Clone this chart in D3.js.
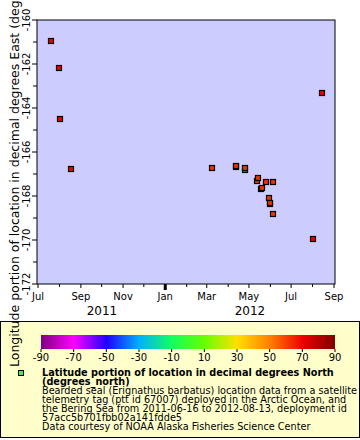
<!DOCTYPE html>
<html><head><meta charset="utf-8">
<script src="https://cdn.jsdelivr.net/npm/d3@7"></script>
<style>body{margin:0;background:#fff}svg{display:block;font-family:"DejaVu Sans",sans-serif}</style>
</head><body><svg id="c" width="360" height="440"></svg>
<script>
const dates = ["2011-07-20","2011-07-31","2011-08-02","2011-08-17","2012-03-08","2012-04-12","2012-04-13","2012-04-25","2012-04-25","2012-05-13","2012-05-14","2012-05-25","2012-06-05","2012-05-18","2012-05-20","2012-05-30","2012-05-31","2012-05-31","2012-06-05","2012-08-01","2012-08-14"];
const longitudes = [-160.94,-162.17,-164.49,-166.77,-166.71,-166.70,-166.64,-166.84,-166.71,-167.30,-167.18,-167.38,-167.35,-167.66,-167.64,-168.09,-168.36,-168.33,-168.82,-169.97,-163.32];
const latitudes = [71,71,71,70,63,63,63,63,63,63,63,63,63,63,63,63,63,63,63,71,71];
const colorStops = [-90,-70,-50,-30,-10,10,30,50,70,90];
const colorValues = ["#800080","#ff00ff","#2000ff","#00b0ff","#10ff60","#66ff00","#ffe000","#ff8000","#f00000","#800000"];
const yTicks = [-172,-170,-168,-166,-164,-162,-160];
const monthLabels = ["Jul","Sep","Nov","Jan","Mar","May","Jul","Sep"];
const yearLabels = ["2011","2012"];
const legendLines = ["Bearded seal (Erignathus barbatus) location data from a satellite","telemetry tag (ptt id 67007) deployed in the Arctic Ocean, and","the Bering Sea from 2011-06-16 to 2012-08-13, deployment id","57acc5b701fbb02a141fdde5","Data courtesy of NOAA Alaska Fisheries Science Center"];

const svg = d3.select("#c");
const parse = d3.utcParse("%Y-%m-%d");
const L = 37, R = 335, T = 20, B = 284;
const x = d3.scaleUtc().domain([parse("2011-07-01"), parse("2012-09-01")]).range([38, 334]);
const y = d3.scaleLinear().domain([-172, -160]).range([B, T]);
const color = d3.scaleLinear().domain(colorStops).range(colorValues);

// legend box
svg.append("rect").attr("x",0.5).attr("y",321.5).attr("width",359).attr("height",116).attr("fill","#ffffcc").attr("stroke","#000");

// plot bg
svg.append("rect").attr("x",L).attr("y",T).attr("width",R-L).attr("height",B-T).attr("fill","#ccccff");

// y axis ticks
const ym = d3.range(-172, -159, 1);
svg.append("g").selectAll("line").data(ym).join("line")
  .attr("x1", d => d % 2 === 0 ? L-5 : L-4).attr("x2", L)
  .attr("y1", d => y(d)).attr("y2", d => y(d)).attr("stroke","#000");
svg.append("g").selectAll("text").data(yTicks).join("text")
  .attr("transform", d => `translate(30,${y(d)}) rotate(-90)`)
  .attr("text-anchor","middle").attr("font-size",10).text(d => d);

// x axis ticks
const months = d3.utcMonth.range(parse("2011-07-01"), parse("2012-09-02"));
svg.append("g").selectAll("line").data(months).join("line")
  .attr("x1", d => x(d)).attr("x2", d => x(d)).attr("y1", B)
  .attr("y2", d => d.getUTCMonth() === 0 ? B+6 : (d.getUTCMonth() % 2 === 0 ? B+4 : B+3))
  .attr("stroke","#000").attr("stroke-width", d => d.getUTCMonth() === 0 ? 3 : 1);
const majors = months.filter(d => d.getUTCMonth() % 2 === 0);
svg.append("g").selectAll("text").data(majors).join("text")
  .attr("x", d => x(d)).attr("y", 300).attr("text-anchor","middle").attr("font-size",10)
  .text((d,i) => monthLabels[i]);
svg.append("g").selectAll("text").data(yearLabels).join("text")
  .attr("x", (d,i) => i===0 ? 102 : 250).attr("y", 315).attr("text-anchor","middle").attr("font-size",12).text(d => d);

// points
const pts = dates.map((d,i) => ({t: parse(d), lon: longitudes[i], lat: latitudes[i]}));
svg.append("g").selectAll("rect").data(pts).join("rect")
  .attr("x", d => Math.round(x(d.t)) - 2.5).attr("y", d => Math.round(y(d.lon)) - 2.5)
  .attr("width",5).attr("height",5).attr("fill", d => color(d.lat)).attr("stroke","#000").attr("stroke-width",1.2);

// frame
svg.append("rect").attr("x",L).attr("y",T).attr("width",R-L).attr("height",B-T).attr("fill","none").attr("stroke","#000");

// y title
svg.append("text").attr("transform","translate(19,367) rotate(-90)").attr("font-size",12.5)
  .text("Longitude portion of location in decimal degrees East (degrees_east)");

// colorbar
const cb = d3.scaleLinear().domain([-90,90]).range([41,335]);
const defs = svg.append("defs");
const grad = defs.append("linearGradient").attr("id","g");
colorStops.forEach((s,i) => grad.append("stop").attr("offset", (s+90)/180).attr("stop-color", colorValues[i]));
svg.append("rect").attr("x",41).attr("y",335).attr("width",294).attr("height",14).attr("fill","url(#g)");
svg.append("g").selectAll("line").data(colorStops).join("line")
  .attr("x1", d => cb(d)).attr("x2", d => cb(d)).attr("y1",349).attr("y2",352).attr("stroke","#000");
svg.append("g").selectAll("text").data(colorStops).join("text")
  .attr("x", d => cb(d)).attr("y", 361).attr("text-anchor","middle").attr("font-size",10).text(d => d);

// legend
svg.append("rect").attr("x",18.5).attr("y",370.5).attr("width",5).attr("height",5).attr("fill","#44ee44").attr("stroke","#000");
svg.append("text").attr("x",42).attr("y",375.5).attr("font-size",9.7).attr("font-weight","bold").text("Latitude portion of location in decimal degrees North");
svg.append("text").attr("x",42).attr("y",384.5).attr("font-size",9.7).attr("font-weight","bold").text("(degrees_north)");
svg.append("g").selectAll("text").data(legendLines).join("text")
  .attr("x",42).attr("y",(d,i) => 393.5 + i*9.2).attr("font-size",9.7).text(d => d);
</script></body></html>
